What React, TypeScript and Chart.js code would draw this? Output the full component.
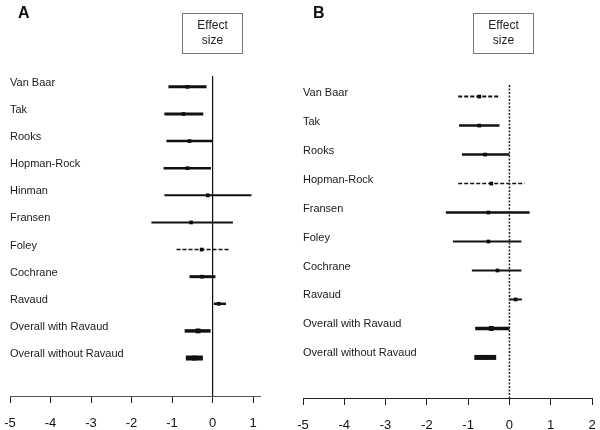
import React, { useEffect, useRef } from "react";
import { Chart, registerables } from "chart.js";

Chart.register(...registerables);

// ---------- data ----------
const namesA = [
  "Van Baar",
  "Tak",
  "Rooks",
  "Hopman-Rock",
  "Hinman",
  "Fransen",
  "Foley",
  "Cochrane",
  "Ravaud",
  "Overall with Ravaud",
  "Overall without Ravaud",
];
const estA = [-0.62, -0.72, -0.57, -0.62, -0.12, -0.53, -0.27, -0.26, 0.15, -0.36, -0.45];
const loA = [-1.09, -1.19, -1.14, -1.21, -1.19, -1.51, -0.89, -0.57, 0.03, -0.69, -0.66];
const hiA = [-0.15, -0.23, 0.0, -0.04, 0.96, 0.5, 0.4, 0.07, 0.33, -0.05, -0.24];
const ticksA = [-5, -4, -3, -2, -1, 0, 1];

const namesB = [
  "Van Baar",
  "Tak",
  "Rooks",
  "Hopman-Rock",
  "Fransen",
  "Foley",
  "Cochrane",
  "Ravaud",
  "Overall with Ravaud",
  "Overall without Ravaud",
];
const estB = [-0.73, -0.73, -0.59, -0.44, -0.51, -0.51, -0.29, 0.15, -0.44, -0.59];
const loB = [-1.24, -1.22, -1.15, -1.24, -1.54, -1.37, -0.91, 0.0, -0.83, -0.85];
const hiB = [-0.22, -0.24, 0.0, 0.37, 0.49, 0.29, 0.29, 0.3, 0.0, -0.32];
const ticksB = [-5, -4, -3, -2, -1, 0, 1, 2];

const panelLetters = ["A", "B"];
const boxLines = ["Effect", "size"];

// ---------- styles ----------
const FONT = "'Liberation Sans', Arial, Helvetica, sans-serif";
const TICK_FONT = "'Liberation Sans Narrow', 'Liberation Sans', Arial, sans-serif";

const widthsA = [3, 3, 2.5, 2.5, 2, 2, 1.5, 3, 2.5, 3.5, 5];
const dashedA = [6];
const widthsB = [2, 2.5, 2.5, 1.5, 2.5, 2, 2, 2, 3.5, 5];
const dashedB = [0, 3];

type PanelProps = {
  names: string[];
  est: number[];
  lo: number[];
  hi: number[];
  ticks: number[];
  xMax: number;
  widths: number[];
  dashed: number[];
  zeroDash: number[];
  zeroWidth: number;
  zeroColor: string;
  axisColor: string;
  canvasLeft: number;
  canvasWidth: number;
  pad: { left: number; right: number; top: number };
  axisH: number;
};

function ForestPanel(p: PanelProps) {
  const ref = useRef<HTMLCanvasElement | null>(null);

  useEffect(() => {
    if (!ref.current) return;
    const n = p.names.length;
    const yMin = -0.4;
    const yMax = n - 1 + 1.4;

    const ciSets = p.names.map((_, i) => ({
      data: [
        { x: p.lo[i], y: i },
        { x: p.hi[i], y: i },
      ],
      showLine: true,
      borderColor: "#111",
      borderWidth: p.widths[i],
      borderDash: p.dashed.includes(i) ? [4, 2] : [],
      borderCapStyle: "butt" as const,
      pointRadius: 0,
      pointHoverRadius: 0,
    }));

    const pts = {
      data: p.est.map((x, i) => ({ x, y: i })),
      showLine: false,
      pointStyle: "rect" as const,
      pointRadius: p.est.map((_, i) => (i >= n - 2 ? 3.4 : 2.6)),
      pointHoverRadius: 0,
      backgroundColor: "#000",
      borderColor: "#000",
      borderWidth: 0,
    };

    const zero = {
      data: [
        { x: 0, y: yMin },
        { x: 0, y: yMax },
      ],
      showLine: true,
      borderColor: p.zeroColor,
      borderWidth: p.zeroWidth,
      borderDash: p.zeroDash,
      pointRadius: 0,
      pointHoverRadius: 0,
    };

    const chart = new Chart(ref.current, {
      type: "scatter",
      data: { datasets: [zero, ...ciSets, pts] as any },
      options: {
        animation: false,
        responsive: false,
        events: [],
        layout: { padding: { left: p.pad.left, right: p.pad.right, top: p.pad.top, bottom: 0 } },
        plugins: { legend: { display: false }, tooltip: { enabled: false } },
        scales: {
          x: {
            type: "linear",
            min: -5,
            max: p.xMax,
            afterBuildTicks: (s: any) => {
              s.ticks = p.ticks.map((v) => ({ value: v }));
            },
            afterFit: (s: any) => {
              s.height = p.axisH;
              s.paddingLeft = 0;
              s.paddingRight = 0;
            },
            grid: { drawOnChartArea: false, drawTicks: true, tickLength: 7, color: "#222", lineWidth: 1 },
            border: { display: true, color: p.axisColor, width: 1 },
            ticks: {
              color: "#111",
              font: { family: TICK_FONT, size: 13 },
              padding: 13,
              maxRotation: 0,
              autoSkip: false,
              callback: (v: any) => String(v),
            },
          },
          y: {
            type: "linear",
            reverse: true,
            min: yMin,
            max: yMax,
            afterBuildTicks: (s: any) => {
              s.ticks = p.names.map((_, i) => ({ value: i }));
            },
            afterFit: (s: any) => {
              s.width = 0;
              s.paddingTop = 0;
              s.paddingBottom = 0;
            },
            grid: { display: false },
            border: { display: false },
            ticks: {
              mirror: true,
              padding: 0,
              labelOffset: -4,
              color: "#1a1a1a",
              font: { family: FONT, size: 11 },
              autoSkip: false,
              callback: (v: any) => p.names[v] ?? "",
            },
          },
        },
      } as any,
    });
    return () => chart.destroy();
  }, []);

  return (
    <canvas
      ref={ref}
      width={p.canvasWidth}
      height={430}
      style={{ position: "absolute", left: p.canvasLeft, top: 0, width: p.canvasWidth, height: 430 }}
    />
  );
}

function EffectBox({ left }: { left: number }) {
  return (
    <div
      style={{
        position: "absolute",
        left,
        top: 13,
        width: 61,
        height: 41,
        boxSizing: "border-box",
        border: "1px solid #777",
        paddingTop: 4,
        textAlign: "center",
        fontFamily: FONT,
        fontSize: 12,
        lineHeight: "15px",
        color: "#222",
      }}
    >
      <div>{boxLines[0]}</div>
      <div>{boxLines[1]}</div>
    </div>
  );
}

function Letter({ left, text }: { left: number; text: string }) {
  return (
    <div
      style={{
        position: "absolute",
        left,
        top: 3,
        fontFamily: FONT,
        fontWeight: "bold",
        fontSize: 16,
        lineHeight: "20px",
        color: "#111",
      }}
    >
      {text}
    </div>
  );
}

export default function App() {
  return (
    <div style={{ position: "absolute", left: 0, top: 0, width: 600, height: 430, background: "#fff", overflow: "hidden" }}>
      <ForestPanel
        names={namesA}
        est={estA}
        lo={loA}
        hi={hiA}
        ticks={ticksA}
        xMax={1.17}
        widths={widthsA}
        dashed={dashedA}
        zeroDash={[]}
        zeroWidth={1}
        zeroColor="#111"
        axisColor="#555"
        canvasLeft={-3}
        canvasWidth={293}
        pad={{ left: 13, right: 30, top: 76 }}
        axisH={34}
      />
      <ForestPanel
        names={namesB}
        est={estB}
        lo={loB}
        hi={hiB}
        ticks={ticksB}
        xMax={2}
        widths={widthsB}
        dashed={dashedB}
        zeroDash={[2, 1.5]}
        zeroWidth={1.5}
        zeroColor="#222"
        axisColor="#222"
        canvasLeft={290}
        canvasWidth={310}
        pad={{ left: 13, right: 8, top: 85 }}
        axisH={32}
      />
      <Letter left={18} text={panelLetters[0]} />
      <Letter left={313} text={panelLetters[1]} />
      <EffectBox left={182} />
      <EffectBox left={473} />
    </div>
  );
}
